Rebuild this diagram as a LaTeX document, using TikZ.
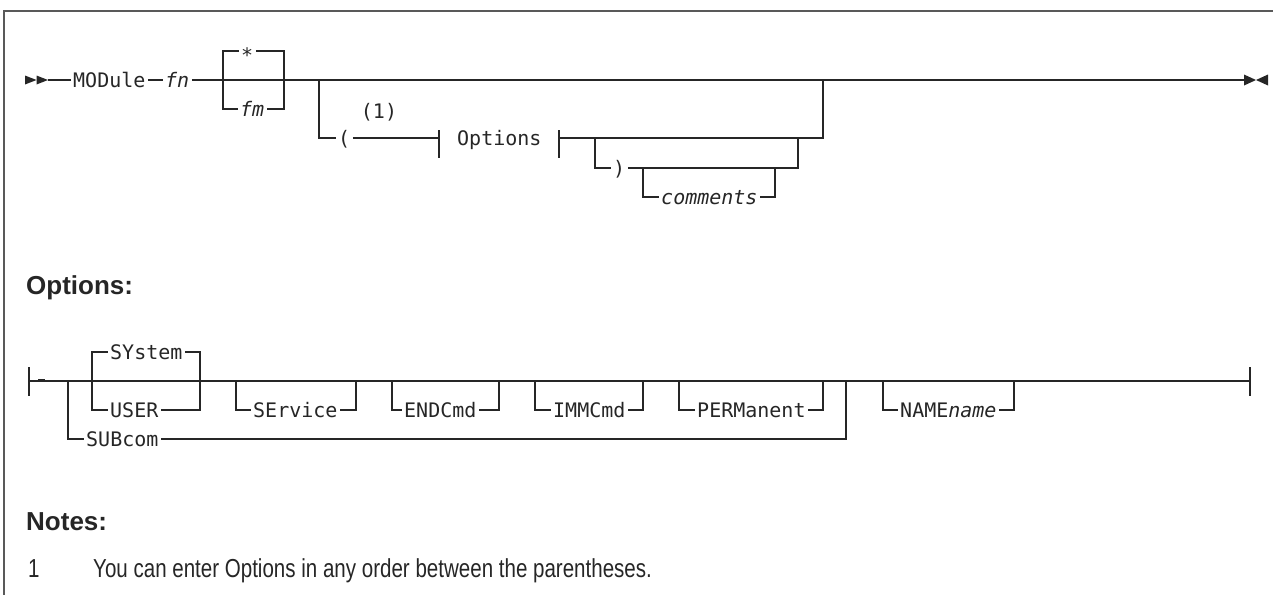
\documentclass[tikz,border=0pt]{standalone}
\usepackage{fontspec}
\setmonofont{DejaVu Sans Mono}
\setsansfont{Liberation Sans}
\newfontfamily\notefont[FakeStretch=0.79]{Liberation Sans}
\definecolor{ink}{HTML}{262626}
\tikzset{
  rail/.style={draw=ink,line width=1.5pt},
  tick/.style={draw=ink,line width=2.3pt},
  syn/.style={font=\ttfamily\fontsize{20}{24}\selectfont,text=ink,inner xsep=2.5pt,inner ysep=0pt,
              text height=14pt,text depth=0pt},
  head/.style={font=\sffamily\bfseries\fontsize{26}{30}\selectfont,text=ink,inner sep=0pt},
  note/.style={font=\notefont\fontsize{26}{30}\selectfont,text=ink,inner sep=0pt},
  frame/.style={draw=black!65,line width=1.5pt}
}
\newcommand\syn[4]{\node[syn,anchor=base west] (#1) at (#2-2.5,#3+7) {#4};}
\begin{document}
\begin{tikzpicture}[x=1pt,y=-1pt]
\useasboundingbox (0,0) rectangle (1273,595);
% frame
\draw[frame] (1273,11) -- (4,11) -- (4,595);

% ===== main diagram, line y=80 =====
\fill[ink] (25,75.5) -- (36.5,80) -- (25,84.5) -- cycle;
\fill[ink] (36.5,75.5) -- (48,80) -- (36.5,84.5) -- cycle;
\coordinate (s0) at (48,80);
\syn{mod}{73}{80}{MODule}
\syn{fn}{165}{80}{\textit{fn}}
\syn{star}{241}{51}{\raisebox{-4pt}{*}}
\syn{fm}{240}{109}{\textit{fm}}
\syn{lp}{338}{138}{(}
\node[syn,anchor=base] (one) at (379,118) {(1)};
\syn{opt}{457}{138}{Options}
\syn{rp}{613}{168}{)}
\syn{com}{661}{197}{\textit{comments}}
\coordinate (e0) at (1244,80);
\fill[ink] (1244,74.5) -- (1256,80) -- (1244,85.5) -- cycle;
\fill[ink] (1268,74.5) -- (1256,80) -- (1268,85.5) -- cycle;

\coordinate (a1) at (223,80); \coordinate (a2) at (284,80);
\coordinate (b1) at (319,80); \coordinate (b2) at (823,80);
\coordinate (ob1) at (439,138); \coordinate (ob2) at (559,138);
\coordinate (c1) at (595,138); \coordinate (c2) at (798,138);
\coordinate (d1) at (643,168); \coordinate (d2) at (775,168);

\draw[rail] (s0) -- (mod.west);
\draw[rail] (mod.east) -- (fn.west);
\draw[rail] (fn.east) -- (e0);
\draw[tick] (829,80) -- (851,80);
\draw[rail] (star.east) -| (a2 |- fm) -- (fm.east);
\draw[rail] (star.west) -| (a1 |- fm) -- (fm.west);
\draw[rail] (b1) |- (lp.west);
\draw[rail] (lp.east) -- (ob1);
\draw[rail] (ob1 |- 0,130) -- (ob1 |- 0,158);
\draw[rail] (ob2 |- 0,130) -- (ob2 |- 0,158);
\draw[rail] (ob2) -| (b2);
\draw[rail] (c1) |- (rp.west);
\draw[rail] (rp.east) -| (c2);
\draw[rail] (d1) |- (com.west);
\draw[rail] (com.east) -| (d2);

% ===== Options heading =====
\node[head,anchor=base west] (hopt) at (26,294) {Options:};

% ===== options diagram, line y=381 =====
\coordinate (os) at (29,381); \coordinate (oe) at (1250,381);
\draw[rail] (os |- 0,367) -- (os |- 0,396);
\draw[rail] (oe |- 0,367) -- (oe |- 0,396);
\draw[rail] (os) -- (oe);
\draw[tick] (38,380) -- (45,380);
\draw[tick] (1020,381) -- (1043,381);
\syn{sys}{110}{352}{SYstem}
\syn{usr}{110}{410}{USER}
\syn{sub}{86}{439}{SUBcom}
\syn{srv}{253}{410}{SErvice}
\syn{end}{404}{410}{ENDCmd}
\syn{imm}{553}{410}{IMMCmd}
\syn{prm}{697}{410}{PERManent}
\syn{nam}{900}{410}{NAME\textit{name}}

\coordinate (u1) at (92,381); \coordinate (u2) at (200,381);
\draw[rail] (sys.west) -| (u1 |- usr) -- (usr.west);
\draw[rail] (sys.east) -| (u2 |- usr) -- (usr.east);
\coordinate (v1) at (68,381); \coordinate (v2) at (846,381);
\draw[rail] (v1) |- (sub.west);
\draw[rail] (sub.east) -| (v2);
\coordinate (w1) at (236,381); \coordinate (w2) at (356,381);
\draw[rail] (w1) |- (srv.west); \draw[rail] (srv.east) -| (w2);
\coordinate (x1) at (392,381); \coordinate (x2) at (499,381);
\draw[rail] (x1) |- (end.west); \draw[rail] (end.east) -| (x2);
\coordinate (y1) at (535,381); \coordinate (y2) at (643,381);
\draw[rail] (y1) |- (imm.west); \draw[rail] (imm.east) -| (y2);
\coordinate (z1) at (679,381); \coordinate (z2) at (823,381);
\draw[rail] (z1) |- (prm.west); \draw[rail] (prm.east) -| (z2);
\coordinate (n1) at (883,381); \coordinate (n2) at (1014,381);
\draw[rail] (n1) |- (nam.west); \draw[rail] (nam.east) -| (n2);

% ===== Notes =====
\node[head,anchor=base west] (hnotes) at (26,530) {Notes:};
\node[note,anchor=base west] (n1num) at (28,577) {1};
\node[note,anchor=base west] (n1txt) at (93,577) {You can enter Options in any order between the parentheses.};
\end{tikzpicture}
\end{document}
